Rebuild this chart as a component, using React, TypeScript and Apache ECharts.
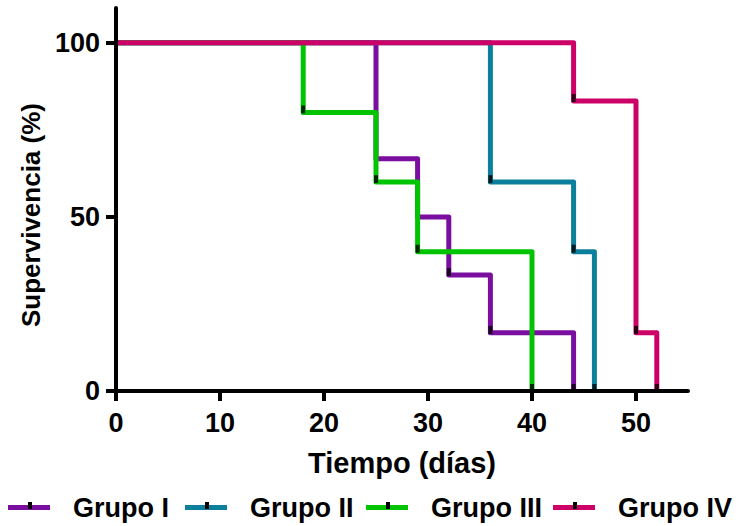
import React, { useEffect, useRef } from "react";
import * as echarts from "echarts";

const groupNames = ["Grupo I", "Grupo II", "Grupo III", "Grupo IV"];
const groupColors = ["#7A0E9E", "#0B7F9B", "#00C400", "#CC0066"];

// Kaplan-Meier steps: event times (days) and survival (%) after each event
const timesI = [25, 29, 32, 36, 44];
const survI = [66.7, 50, 33.3, 16.7, 0];
const timesII = [36, 44, 46];
const survII = [60, 40, 0];
const timesIII = [18, 25, 29, 40];
const survIII = [80, 60, 40, 0];
const timesIV = [44, 50, 52];
const survIV = [83.3, 16.7, 0];

// times where a black tick mark is drawn on each curve
const marksI = [32, 36, 44];
const marksII = [36, 44, 46];
const marksIII = [18, 25, 29, 40];
const marksIV = [44, 50, 52];

const xTicks = [0, 10, 20, 30, 40, 50];
const yTicks = [0, 50, 100];

const allTimes = [timesI, timesII, timesIII, timesIV];
const allSurv = [survI, survII, survIII, survIV];
const allMarks = [marksI, marksII, marksIII, marksIV];

function stepPoints(times: number[], surv: number[]) {
  const pts: number[][] = [[0, 100]];
  let prev = 100;
  times.forEach((t, i) => {
    pts.push([t, prev]);
    pts.push([t, surv[i]]);
    prev = surv[i];
  });
  return pts;
}

function markPoints(times: number[], surv: number[], marks: number[]) {
  return marks.map((m) => [m, surv[times.indexOf(m)]]);
}

const FONT = "'Liberation Sans', Arial, sans-serif";
const legendLefts = [8, 185, 366, 553];

export default function App() {
  const ref = useRef<HTMLDivElement>(null);
  useEffect(() => {
    if (!ref.current) return;
    const chart = echarts.init(ref.current, undefined, { renderer: "svg" });
    const lineSeries = groupNames.map((name, i) => ({
      name,
      type: "line",
      data: stepPoints(allTimes[i], allSurv[i]),
      showSymbol: false,
      symbol: "none",
      lineStyle: { color: groupColors[i], width: 5, join: "round" },
      itemStyle: { color: groupColors[i] },
      z: 3 + i,
      silent: true,
    }));
    const markSeries = groupNames.map((name, i) => ({
      name: name + " marcas",
      type: "scatter",
      data: markPoints(allTimes[i], allSurv[i], allMarks[i]),
      symbol: "rect",
      symbolSize: [4, 8],
      symbolOffset: [0, -3],
      itemStyle: { color: "#000" },
      z: 10,
      silent: true,
    }));
    const legends = groupNames.map((name, i) => ({
      data: [name],
      left: legendLefts[i],
      top: 494,
      orient: "horizontal",
      icon: "rect",
      itemWidth: 42,
      itemHeight: 5,
      padding: 0,
      selectedMode: false,
      textStyle: {
        color: "#000",
        fontFamily: FONT,
        fontWeight: "bold",
        fontSize: 27,
        padding: [0, 0, 0, 18],
      },
    }));
    const legendTicks = legendLefts.map((l) => ({
      type: "rect",
      shape: { x: l + 20, y: 502, width: 4, height: 7 },
      style: { fill: "#000" },
      z: 100,
    }));
    chart.setOption({
      animation: false,
      backgroundColor: "#fff",
      grid: { left: 116, right: 48, top: 8, bottom: 135, outerBoundsMode: "none" },
      legend: legends,
      xAxis: {
        type: "value",
        min: 0,
        max: 55,
        interval: 10,
        name: "Tiempo (días)",
        nameLocation: "middle",
        nameGap: 57,
        nameTextStyle: { color: "#000", fontFamily: FONT, fontWeight: "bold", fontSize: 29 },
        axisLine: { show: true, lineStyle: { color: "#000", width: 4 } },
        axisTick: { show: true, length: 10, lineStyle: { color: "#000", width: 4 }, customValues: xTicks },
        axisLabel: { color: "#000", fontFamily: FONT, fontWeight: "bold", fontSize: 27, margin: 18, customValues: xTicks },
        splitLine: { show: false },
        z: 20,
      },
      yAxis: {
        type: "value",
        min: 0,
        max: 110,
        interval: 50,
        axisLine: { show: true, lineStyle: { color: "#000", width: 4 } },
        axisTick: { show: true, length: 10, lineStyle: { color: "#000", width: 4 }, customValues: yTicks },
        axisLabel: { color: "#000", fontFamily: FONT, fontWeight: "bold", fontSize: 27, margin: 16, customValues: yTicks },
        splitLine: { show: false },
        z: 20,
      },
      graphic: [
        {
          type: "text",
          x: 31,
          y: 215,
          rotation: Math.PI / 2,
          style: {
            text: "Supervivencia (%)",
            fill: "#000",
            font: "bold 26px " + FONT,
            textAlign: "center",
            textVerticalAlign: "middle",
          },
        },
        ...legendTicks,
      ],
      series: [...lineSeries, ...markSeries],
    });
    return () => chart.dispose();
  }, []);
  return <div ref={ref} style={{ width: 736, height: 526, position: "absolute", left: 0, top: 0 }} />;
}
